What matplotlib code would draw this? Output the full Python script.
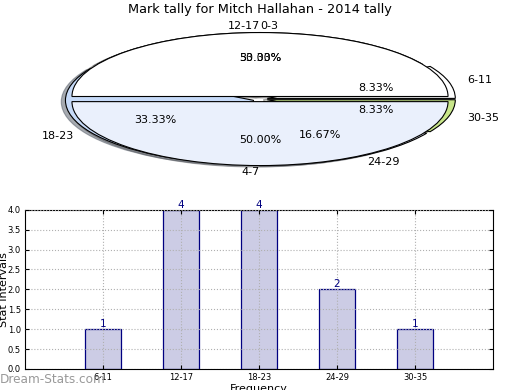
import numpy as np
import matplotlib
matplotlib.use('Agg')
import matplotlib.pyplot as plt

# données du tally
tranches = ['6-11', '12-17', '18-23', '24-29', '30-35']
frequences = [1, 4, 4, 2, 1]
# deuxième série du camembert (deux moitiés)
tranches_ext = ['0-3', '4-7']
parts_ext = [50, 50]

couleurs = ['#ffffff', '#ffffff', '#c6daf8', '#eaf0fc', '#c8e68a']
couleurs_ext = ['#ffffff', '#eaf0fc']

fig = plt.figure(figsize=(5.2, 3.9), dpi=100)

# camembert écrasé en haut
ax1 = fig.add_axes([0.048, 0.541, 0.904, 0.410])
txt = {'fontsize': 8}
bord = {'edgecolor': 'black', 'linewidth': 0.8}
ombre = {'ox': -0.016, 'oy': -0.016, 'shade': 0.6}
w1, t1, a1 = ax1.pie(frequences, labels=tranches, colors=couleurs, autopct='%1.2f%%',
                     explode=[0.04] * 5, shadow=ombre, textprops=txt, wedgeprops=bord)
w2, t2, a2 = ax1.pie(parts_ext, labels=tranches_ext, colors=couleurs_ext, autopct='%1.2f%%',
                     explode=[0.04] * 2, shadow=ombre, textprops=txt, wedgeprops=bord)
# alignement des étiquettes verticales comme sur l'original
t1[1].set_ha('right')
t2[0].set_ha('left')
t2[1].set_ha('right')
ax1.set_aspect('auto')
ax1.set_xlim(-1.25, 1.25)
ax1.set_ylim(-1.25, 1.25)

fig.text(0.5, 1 - 10 / 390, "Mark tally for Mitch Hallahan - 2014 tally",
         ha='center', va='center', fontsize=9.3)

# histogramme en bas
ax2 = fig.add_axes([0.048, 0.054, 0.9, 0.408])
x = np.arange(1, len(tranches) + 1)
ax2.bar(x, frequences, width=0.46, color='#ccccE5', edgecolor='navy', linewidth=0.9)
for xi, v in zip(x, frequences):
    ax2.text(xi, v, str(v), ha='center', va='bottom', color='navy', fontsize=7.5)

ax2.set_xlim(0, 6)
ax2.set_ylim(0, 4)
ax2.set_xticks(x)
ax2.set_xticklabels(tranches)
ax2.set_yticks(np.arange(0, 4.01, 0.5))
ax2.set_yticklabels(['%.1f' % t for t in np.arange(0, 4.01, 0.5)])
ax2.tick_params(direction='in', labelsize=6, length=3, top=True, right=True, pad=3)
ax2.grid(True, ls=':', color='#b0b0b0', lw=0.8)
ax2.set_axisbelow(False)

ax2.set_ylabel('Stat Intervals', fontsize=8)
ax2.yaxis.set_label_coords(-0.034, 0.5)
ax2.set_xlabel('Frequency', fontsize=8)
ax2.xaxis.set_label_coords(0.5, -0.094)

fig.text(0.0, 0.026, 'Dream-Stats.com', color='#999999', fontsize=8.7, va='center', ha='left')

fig.savefig('out.png', dpi=100)
